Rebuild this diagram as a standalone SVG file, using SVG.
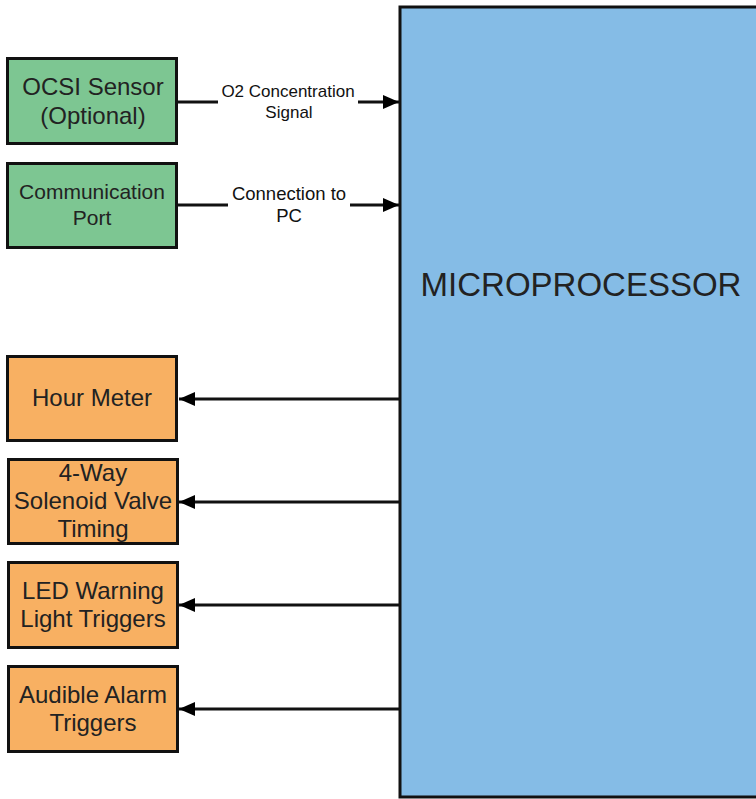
<svg xmlns="http://www.w3.org/2000/svg" width="756" height="799" viewBox="0 0 756 799">
<style>
.box{stroke:#111;stroke-width:3}
.g{fill:#7dc692}
.o{fill:#f8b062}
.t{font-family:"Liberation Sans",Arial,sans-serif;font-size:24px;fill:#222;text-anchor:middle}
.l{font-family:"Liberation Sans",Arial,sans-serif;font-size:17px;fill:#111;text-anchor:middle}
.c{stroke:#111;stroke-width:3;fill:none}
</style>
<defs>
<marker id="ah" markerWidth="16" markerHeight="14" refX="16" refY="7" orient="auto" markerUnits="userSpaceOnUse">
<path d="M0,0 L16,7 L0,14 Z" fill="#000"/>
</marker>
</defs>
<g id="micro">
<rect x="400" y="7" width="370" height="790" fill="#85bce6" stroke="#111" stroke-width="3"/>
<text x="581" y="296" style="font-family:'Liberation Sans',Arial,sans-serif;font-size:33px;fill:#222;text-anchor:middle">MICROPROCESSOR</text>
</g>
<g id="connectors">
<line class="c" x1="178" y1="102" x2="399" y2="102" marker-end="url(#ah)"/>
<line class="c" x1="178" y1="205" x2="399" y2="205" marker-end="url(#ah)"/>
<line class="c" x1="400" y1="399" x2="179" y2="399" marker-end="url(#ah)"/>
<line class="c" x1="400" y1="502" x2="179" y2="502" marker-end="url(#ah)"/>
<line class="c" x1="400" y1="605" x2="179" y2="605" marker-end="url(#ah)"/>
<line class="c" x1="400" y1="709" x2="179" y2="709" marker-end="url(#ah)"/>
<rect x="218" y="84" width="140" height="38" fill="#fff"/>
<text class="l" x="288" y="97">O2 Concentration</text>
<text class="l" x="289" y="118">Signal</text>
<rect x="228" y="185" width="122" height="40" fill="#fff"/>
<text class="l" x="289" y="200" style="font-size:18.5px">Connection to</text>
<text class="l" x="289" y="222" style="font-size:18.5px">PC</text>
</g>
<g id="ocsi">
<rect class="box g" x="7.5" y="58.5" width="169" height="85"/>
<text class="t" x="93" y="95">OCSI Sensor</text>
<text class="t" x="93" y="124">(Optional)</text>
</g>
<g id="comm">
<rect class="box g" x="7.5" y="163.5" width="169" height="84"/>
<text class="t" x="92" y="199" style="font-size:21px">Communication</text>
<text class="t" x="92" y="225" style="font-size:21px">Port</text>
</g>
<g id="hour">
<rect class="box o" x="7.5" y="356.5" width="169" height="84"/>
<text class="t" x="92" y="406">Hour Meter</text>
</g>
<g id="valve">
<rect class="box o" x="8.5" y="459.5" width="169" height="84"/>
<text class="t" x="93" y="481">4-Way</text>
<text class="t" x="93" y="509">Solenoid Valve</text>
<text class="t" x="93" y="537">Timing</text>
</g>
<g id="led">
<rect class="box o" x="8.5" y="562.5" width="169" height="85"/>
<text class="t" x="93" y="599">LED Warning</text>
<text class="t" x="93" y="627">Light Triggers</text>
</g>
<g id="alarm">
<rect class="box o" x="8.5" y="666.5" width="169" height="85"/>
<text class="t" x="93" y="703">Audible Alarm</text>
<text class="t" x="93" y="731">Triggers</text>
</g>
</svg>
